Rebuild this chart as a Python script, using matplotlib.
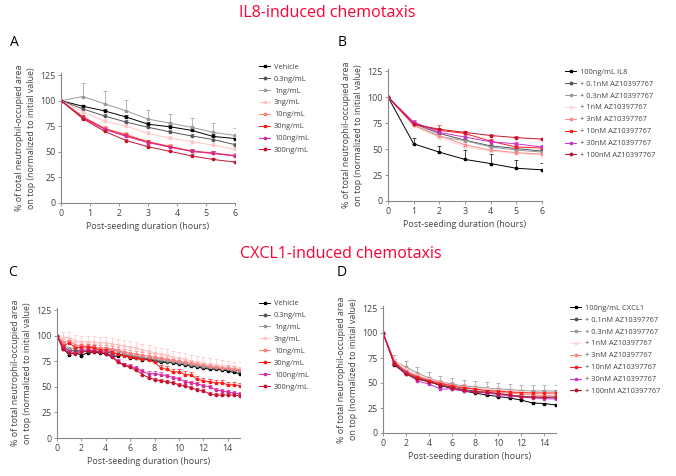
import numpy as np
import matplotlib.pyplot as plt
from matplotlib.lines import Line2D

plt.rcParams['font.family'] = ['Open Sans', 'DejaVu Sans']

# ---- data ----
xA = [0, 0.75, 1.5, 2.25, 3, 3.75, 4.5, 5.25, 6]
labA = ["Vehicle", "0.3ng/mL", "1ng/mL", "3ng/mL", "10ng/mL", "30ng/mL", "100ng/mL", "300ng/mL"]
yA = [
    [100, 94.5, 90, 84, 77, 74.5, 71, 65, 63],
    [100, 92, 85, 79, 74, 69.5, 65.5, 62, 57],
    [100, 104, 97, 90, 82, 78, 74, 69, 66],
    [100, 89, 80, 75, 68, 63.5, 60, 56.5, 52.5],
    [100, 84.5, 73, 67, 60, 55.5, 51, 49, 46.5],
    [100, 84, 72.5, 66, 59.5, 55, 50.5, 48.5, 46],
    [100, 83, 72, 65, 59, 54.5, 50.5, 48.5, 46],
    [100, 82.5, 70, 61, 55, 50.5, 46, 42.5, 40],
]
eA = [
    [0, 1.5, 1.5, 2, 2, 2, 2, 2, 2],
    [0, 1.5, 2, 2, 2, 2, 2, 2, 2],
    [0, 13, 12, 11, 9, 9, 9, 9, 7],
    [0, 1.5, 2, 2, 2, 2, 2, 2, 2],
    [0, 1.5, 2, 2, 2, 2, 2, 2, 2],
    [0, 1.5, 2, 2, 2, 2, 2, 2, 2],
    [0, 1.5, 2, 2, 2, 2, 2, 2, 2],
    [0, 1.5, 1.5, 1.5, 1.5, 1.5, 1.5, 1.5, 1.5],
]

xB = [0, 1, 2, 3, 4, 5, 6]
labB = ["100ng/mL IL8", "+ 0.1nM AZ10397767", "+ 0.3nM AZ10397767", "+ 1nM AZ10397767",
        "+ 3nM AZ10397767", "+ 10nM AZ10397767", "+ 30nM AZ10397767", "+ 100nM AZ10397767"]
yB = [
    [100, 55, 47, 40, 36, 31.5, 30],
    [100, 74.5, 65, 58.5, 53, 50.5, 48],
    [100, 73, 62, 58, 52, 49, 47],
    [100, 72, 61, 52, 48, 46, 44.5],
    [100, 73, 63, 54, 49, 46.5, 45],
    [100, 74, 68, 65, 57.5, 52, 51],
    [100, 76, 66, 61.5, 57, 55, 52],
    [100, 74, 69, 66, 63, 61, 59.5],
]
eB = [
    [0, 6, 6, 9, 9, 8, 7],
    [0, 2, 2, 2, 2, 2, 2],
    [0, 2, 2, 2, 2, 2, 2],
    [0, 2, 2, 3, 3, 2, 2],
    [0, 2, 2, 3, 3, 2, 2],
    [0, 2, 5, 2, 2, 2, 2],
    [0, 2, 2, 2, 2, 2, 2],
    [0, 1.5, 1.5, 1.5, 1.5, 1.5, 1.5],
]

xC = [i * 0.5 for i in range(31)]
labC = labA
yC = [
    [100, 87, 81.5, 84, 80.5, 83.5, 84, 83, 82, 80, 80, 82, 78, 78, 76.5, 77, 75, 74, 74, 73.5,
     72, 71.5, 70, 69.5, 68, 67.5, 67, 66.5, 65.5, 64, 63],
    [100, 90, 85, 86, 85, 85, 86, 84, 84, 83, 82, 81, 80, 79, 78, 77.5, 76, 75, 74.5, 74,
     73, 72, 71, 70, 69.5, 69, 68, 67.5, 67, 66, 65.5],
    [100, 92, 87, 88, 88, 88, 89, 86, 87, 86, 85, 83, 81, 80, 79, 78, 78, 77, 76, 75,
     74, 73, 72, 71, 70, 69, 69, 68, 68, 67, 67],
    [100, 98, 98, 95, 94, 94, 94, 93, 93, 92, 91, 90, 89, 88, 86, 85, 83, 82, 81, 79,
     78, 77, 75, 74, 73, 72, 71, 70, 69, 68, 68],
    [100, 94, 95, 91, 90, 90, 89, 88, 88, 87, 86, 84, 83, 82, 81, 80, 79, 78, 77, 76,
     75, 74, 73, 72, 71, 70, 69, 68, 68, 67, 66],
    [100, 90, 93, 88, 89, 89, 88, 86, 86, 84, 82, 80, 79, 78, 77, 76, 74, 68.5, 67, 64.5,
     64.5, 62, 61.5, 57.5, 56, 55, 54, 54, 52, 52, 51],
    [100, 88, 85, 83, 86, 86, 85, 84, 84, 80, 75, 71, 70, 68, 65, 63, 63, 62, 61, 59,
     58, 55, 54, 53, 51, 50, 47, 46, 45, 44, 43],
    [100, 87, 83, 82, 84, 85, 84, 84, 82, 79, 74, 71, 69, 66, 62, 59, 57, 56, 55, 54,
     52, 51, 49, 47, 46, 43, 42, 42, 42, 42, 41],
]
eC = [2, 2, 2, 6, 3, 3, 2, 2]

xD = list(range(16))
labD = ["100ng/mL CXCL1"] + labB[1:]
yD = [
    [100, 68, 59, 54, 51.5, 47.5, 44.5, 42, 40, 38, 36.5, 35, 33, 30, 29.5, 28],
    [100, 70, 60, 55, 52, 48, 46, 43.5, 42, 40.5, 39.5, 38, 37, 36, 35.5, 35],
    [100, 72, 66, 60, 55, 51, 49, 47, 46, 45, 44, 43.5, 42.5, 42, 42, 42],
    [100, 73, 64, 58, 54, 50, 48, 46, 45, 44, 43, 42, 41, 40, 40, 39],
    [100, 71, 62, 57, 53, 50, 48, 46, 44, 42, 41, 40, 39, 38, 37.5, 37],
    [100, 71, 61, 56, 52.5, 49.5, 47, 45, 44, 42.5, 42, 41, 40.5, 40, 40, 40],
    [100, 69, 60, 52, 49, 44, 44, 42, 41, 40, 38.5, 37, 36, 35, 34.5, 34],
    [100, 69, 59, 54, 51, 48, 45, 43, 41, 41, 39.5, 38, 36, 36, 36, 36],
]
eD = [1, 2, 6, 3, 3, 3, 2, 2]

colsA = ['#000000', '#555555', '#9a9a9a', '#ffc4c4', '#ff7f7f', '#ff1a1a', '#d42c9c', '#c8102e']
colsB = ['#000000', '#555555', '#9a9a9a', '#ffd6d6', '#ff8a8a', '#ff1a1a', '#cc33cc', '#c8102e']
markers = ['s', 'o', 's', 's', 'o', 's', 's', 'o']

fig = plt.figure(figsize=(6.76, 4.76), dpi=100)


def panel(rect, x, ys, errs, labels, cols, xticks, xmax, leg_xy, letter, letter_xy):
    ax = fig.add_axes(rect)
    handles = []
    for i, y in enumerate(ys):
        e = errs[i]
        if np.isscalar(e):
            e = [0] + [e] * (len(y) - 1)
        ax.errorbar(x, y, yerr=[np.zeros(len(y)), e], color=cols[i], lw=0.7,
                    marker=markers[i], ms=1.6, elinewidth=0.5, capsize=1.5, capthick=0.5)
        handles.append(Line2D([], [], color=cols[i], lw=0.7, marker=markers[i], ms=1.8))
    ax.set_xlim(0, xmax)
    ax.set_ylim(0, 127)
    ax.set_xticks(xticks)
    ax.set_yticks([0, 25, 50, 75, 100, 125])
    for s in ['top', 'right']:
        ax.spines[s].set_visible(False)
    for s in ['left', 'bottom']:
        ax.spines[s].set_color('#888888')
        ax.spines[s].set_linewidth(0.8)
    ax.tick_params(labelsize=6.4, length=2.5, width=0.6, colors='#888888', labelcolor='#444444', pad=1.5)
    ax.set_ylabel("% of total neutrophil-occupied area\non top (normalized to initial value)",
                  fontsize=6.4, color='#444444', labelpad=3, linespacing=1.35)
    ax.set_xlabel("Post-seeding duration (hours)", fontsize=6.4, color='#444444', labelpad=3)
    ax.legend(handles, labels, loc='upper left', bbox_to_anchor=leg_xy,
              bbox_transform=fig.transFigure, labelcolor='#444444',
              frameon=False, fontsize=5.4, handlelength=1.5, handletextpad=0.5,
              labelspacing=0.62, borderaxespad=0, borderpad=0)
    fig.text(letter_xy[0], letter_xy[1], letter, fontsize=10, ha='left', va='center')
    return ax


W, H = 676.0, 476.0
panel([61 / W, 1 - 203 / H, 174 / W, 130 / H], xA, yA, eA, labA, colsA,
      range(7), 6, (259 / W, 1 - 63.5 / H), "A", (10 / W, 1 - 42 / H))
panel([388 / W, 1 - 201 / H, 154 / W, 132 / H], xB, yB, eB, labB, colsB,
      range(7), 6, (565 / W, 1 - 68.5 / H), "B", (338 / W, 1 - 42 / H))
panel([57 / W, 1 - 438 / H, 183 / W, 130 / H], xC, yC, eC, labC, colsA,
      range(0, 15, 2), 15, (259 / W, 1 - 300 / H), "C", (8 / W, 1 - 273 / H))
panel([383 / W, 1 - 433 / H, 172.5 / W, 127 / H], xD, yD, eD, labD, colsB,
      range(0, 15, 2), 15, (570 / W, 1 - 304.5 / H), "D", (337 / W, 1 - 273 / H))

fig.text(327 / W, 1 - 13 / H, "IL8-induced chemotaxis", color='#ff0033', fontsize=11.5,
         ha='center', va='center')
fig.text(341 / W, 1 - 254 / H, "CXCL1-induced chemotaxis", color='#ff0033', fontsize=11.5,
         ha='center', va='center')

fig.savefig("out.png", dpi=100)
